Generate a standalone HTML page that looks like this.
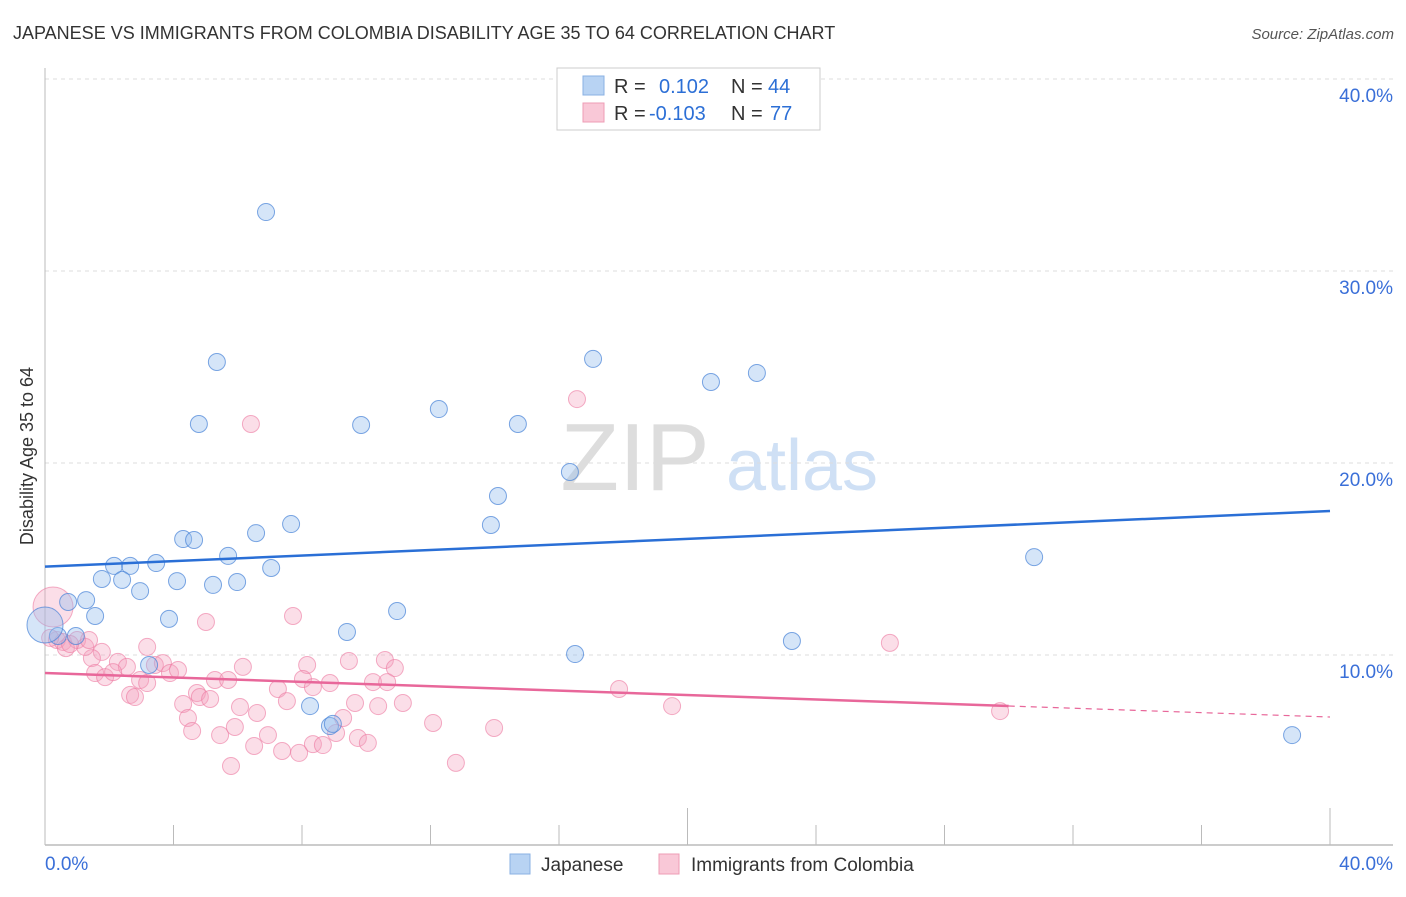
<!DOCTYPE html>
<html><head><meta charset="utf-8"><style>
body{margin:0;background:#fff;font-family:"Liberation Sans",sans-serif}
svg text{font-family:"Liberation Sans",sans-serif}
</style></head><body>
<svg id="chart" width="1406" height="892" xmlns="http://www.w3.org/2000/svg">
<text x="13" y="39" font-size="18" fill="#333">JAPANESE VS IMMIGRANTS FROM COLOMBIA DISABILITY AGE 35 TO 64 CORRELATION CHART</text>
<text x="1394" y="39" font-size="15" fill="#555" text-anchor="end" font-style="italic">Source: ZipAtlas.com</text>
<g>
<text x="635" y="490" font-size="96" fill="#ddd" font-family="Liberation Serif,serif" text-anchor="middle">ZIP</text>
<text x="802" y="490" font-size="72" fill="#cfe0f5" text-anchor="middle">atlas</text>
</g>
<g id="grid"></g>
<g id="axes"></g>
<text transform="translate(33,456) rotate(-90)" font-size="18" fill="#333" text-anchor="middle">Disability Age 35 to 64</text>
<g id="pts"></g>
<g id="lines"></g>
<g>
<rect x="557" y="68" width="263" height="62" fill="#fff" stroke="#ccc"/>
<rect x="583" y="76" width="21" height="19" fill="#b8d3f3" stroke="#8ab0e3"/>
<rect x="583" y="103" width="21" height="19" fill="#f9c8d7" stroke="#ee9cb5"/>
<text x="614" y="93" font-size="20" fill="#333">R =</text>
<text x="659" y="93" font-size="20" fill="#2c6fd6">0.102</text>
<text x="731" y="93" font-size="20" fill="#333">N =</text>
<text x="768" y="93" font-size="20" fill="#2c6fd6">44</text>
<text x="614" y="120" font-size="20" fill="#333">R =</text>
<text x="649" y="120" font-size="20" fill="#2c6fd6">-0.103</text>
<text x="731" y="120" font-size="20" fill="#333">N =</text>
<text x="770" y="120" font-size="20" fill="#2c6fd6">77</text>
</g>
<g>
<rect x="510" y="854" width="20" height="20" fill="#b8d3f3" stroke="#8ab0e3"/>
<text x="541" y="871" font-size="19" fill="#333">Japanese</text>
<rect x="659" y="854" width="20" height="20" fill="#f9c8d7" stroke="#ee9cb5"/>
<text x="691" y="871" font-size="19" fill="#333">Immigrants from Colombia</text>
</g>
</svg>
<script>
const yTicks=[10,20,30,40];
const yTickLabels=["10.0%","20.0%","30.0%","40.0%"];
const xTickLabels=["0.0%","40.0%"];
const blueX=[6.88,5.35,17.06,22.16,20.73,4.79,9.84,12.26,14.72,16.34,14.10,13.88,7.66,6.57,4.30,4.64,5.70,3.46,7.04,2.15,2.65,1.77,2.40,4.11,5.23,5.98,2.96,0.72,1.28,1.56,3.86,10.96,9.40,30.79,23.25,16.50,0.40,0.96,8.25,8.87,38.82,3.24,0,8.96];
const blueY=[33.07,25.26,25.42,24.69,24.22,22.03,21.98,22.81,22.03,19.53,18.28,16.77,16.82,16.35,16.04,15.99,15.16,14.79,14.53,14.64,14.64,13.96,13.91,13.85,13.65,13.80,13.33,12.76,12.86,12.03,11.88,12.29,11.20,15.10,10.73,10.05,10.99,10.99,7.34,6.30,5.83,9.48,11.56,6.41];
const pinkX=[5.01,7.72,3.18,1.77,1.46,1.56,1.87,2.27,2.55,2.12,2.96,3.18,2.65,2.80,3.42,3.67,3.89,4.14,6.16,5.29,5.70,4.73,4.82,5.14,4.30,4.45,4.58,6.07,6.60,5.45,5.91,6.51,6.94,5.79,7.38,7.91,7.25,7.53,8.16,8.03,8.34,8.87,9.46,10.58,10.89,10.21,10.65,9.65,10.37,11.14,9.28,9.06,9.74,10.05,8.34,8.65,12.08,12.79,0.25,0.37,0.56,1.00,1.25,6.41,16.56,26.30,17.87,19.52,29.73,13.98,0.16,0.65,0.78,1.37];
const pinkY=[11.72,12.03,10.42,10.16,9.84,9.06,8.85,9.64,9.38,9.11,8.70,8.54,7.92,7.81,9.48,9.58,9.06,9.22,9.38,8.70,8.70,8.02,7.81,7.71,7.45,6.72,6.04,7.29,6.98,5.83,6.25,5.26,5.83,4.22,5.00,4.90,8.23,7.60,9.48,8.75,8.33,8.54,9.69,9.74,9.32,8.59,8.59,7.50,7.34,7.50,6.72,5.94,5.68,5.42,5.36,5.31,6.46,4.38,12.5,10.78,10.68,10.78,10.42,22.03,23.33,10.63,8.23,7.34,7.08,6.20,10.89,10.36,10.57,10.78];
const blueTrend=[14.6,17.5];
const pinkTrend=[9.06,6.77];
const pinkSolidEnd=30.0;
const NS="http://www.w3.org/2000/svg";
const X=v=>45+v*32.125, Y=v=>847-v*19.2;
function mk(t,a,p){const e=document.createElementNS(NS,t);for(const k in a)e.setAttribute(k,a[k]);p.appendChild(e);return e;}
const grid=document.getElementById('grid'),axes=document.getElementById('axes'),pts=document.getElementById('pts'),lines=document.getElementById('lines');
yTicks.forEach((v,i)=>{
 const l=mk('line',{x1:45,x2:1393,y1:Y(v),y2:Y(v),stroke:'#ddd','stroke-dasharray':'4,4'},grid);
 
 
 const t=mk('text',{x:1393,y:Y(v)+23,'font-size':19,fill:'#3a6fd8','text-anchor':'end'},axes);
 t.textContent=yTickLabels[i];
 
 
});
const ax=mk('line',{x1:45,x2:1393,y1:845,y2:845,stroke:'#bbb','stroke-width':1.5},axes);


const ay=mk('line',{x1:45,x2:45,y1:68,y2:845,stroke:'#bbb'},axes);


for(let i=0;i<=10;i++){
 const tall=(i==5||i==10);
 const tk=mk('line',{x1:X(i*4),x2:X(i*4),y1:tall?808:825,y2:845,stroke:'#bbb'},axes);
 
 
}
[[0,'start'],[40,'end']].forEach((d,i)=>{
 const t=mk('text',{x:i?1393:45,y:870,'font-size':19,fill:'#3a6fd8','text-anchor':d[1]},axes);
 t.textContent=xTickLabels[i];
 
 
});
pinkX.forEach((x,i)=>{
 const big=(x<0.3&&pinkY[i]>12);
 const c=mk('circle',{cx:X(x),cy:Y(pinkY[i]),r:big?20:8.5,fill:'rgba(244,160,188,0.35)',stroke:'rgba(236,120,160,0.6)'},pts);
 
 
});
blueX.forEach((x,i)=>{
 const big=(x===0);
 const c=mk('circle',{cx:X(x),cy:Y(blueY[i]),r:big?18:8.5,fill:'rgba(150,190,238,0.4)',stroke:'rgba(70,130,215,0.7)'},pts);
 
 
});
const bl=mk('line',{x1:X(0),y1:Y(blueTrend[0]),x2:X(40),y2:Y(blueTrend[1]),stroke:'#2a6fd6','stroke-width':2.5},lines);


const pe=pinkTrend[0]+(pinkTrend[1]-pinkTrend[0])*pinkSolidEnd/40;
const pl=mk('line',{x1:X(0),y1:Y(pinkTrend[0]),x2:X(pinkSolidEnd),y2:Y(pe),stroke:'#e8679a','stroke-width':2.5},lines);


const pd=mk('line',{x1:X(pinkSolidEnd),y1:Y(pe),x2:X(40),y2:Y(pinkTrend[1]),stroke:'#e8679a','stroke-width':1.2,'stroke-dasharray':'6,5'},lines);


</script>
</body></html>
